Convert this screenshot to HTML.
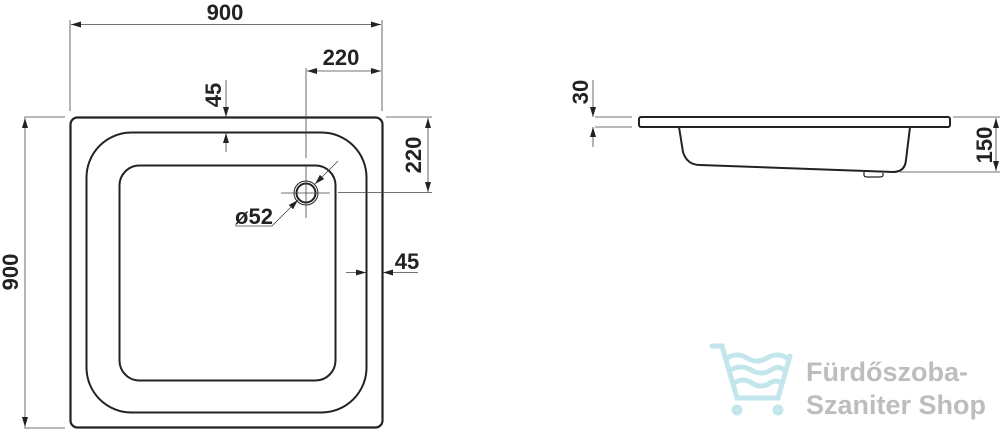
<!DOCTYPE html>
<html><head><meta charset="utf-8"><style>
html,body{margin:0;padding:0;background:#fff;width:1000px;height:429px;overflow:hidden}
text{font-family:"Liberation Sans",sans-serif;font-weight:bold;fill:#222}
</style></head><body>
<svg width="1000" height="429" viewBox="0 0 1000 429" xmlns="http://www.w3.org/2000/svg">
<defs>
<marker id="a" viewBox="0 0 10 6" refX="10" refY="3" markerWidth="10" markerHeight="6" orient="auto-start-reverse" markerUnits="userSpaceOnUse"><path d="M0,0 L10,3 L0,6 Z" fill="#222"/></marker>
</defs>
<g fill="none" stroke="#222">
<rect x="70.5" y="117.5" width="312" height="310" rx="7" stroke-width="2.2"/>
<rect x="86.5" y="132.5" width="280" height="280" rx="45" stroke-width="2"/>
<rect x="119.5" y="165.5" width="216" height="215" rx="20" stroke-width="2"/>
<circle cx="306" cy="193" r="12" stroke-width="1"/>
<circle cx="306" cy="193" r="9.5" stroke-width="2"/>
</g>
<g stroke="#444" stroke-width="0.8" fill="none">
<line x1="281" y1="193" x2="330" y2="193"/>
<line x1="306" y1="166" x2="306" y2="218"/>
<line x1="70" y1="20" x2="70" y2="111"/>
<line x1="382" y1="20" x2="382" y2="111"/>
<line x1="306" y1="68" x2="306" y2="158"/>
<line x1="24" y1="117" x2="65" y2="117"/>
<line x1="24" y1="428" x2="65" y2="428"/>
<line x1="386" y1="117" x2="432" y2="117"/>
<line x1="338" y1="192.5" x2="432" y2="192.5"/>
<line x1="71" y1="24.5" x2="381" y2="24.5" marker-start="url(#a)" marker-end="url(#a)"/>
<line x1="307" y1="71" x2="381" y2="71" marker-start="url(#a)" marker-end="url(#a)"/>
<line x1="226" y1="80" x2="226" y2="117" marker-end="url(#a)"/>
<line x1="226" y1="152" x2="226" y2="133" marker-end="url(#a)"/>
<line x1="428" y1="118" x2="428" y2="192" marker-start="url(#a)" marker-end="url(#a)"/>
<line x1="25" y1="118" x2="25" y2="427" marker-start="url(#a)" marker-end="url(#a)"/>
<line x1="346" y1="272.5" x2="366" y2="272.5" marker-end="url(#a)"/>
<line x1="418" y1="272.5" x2="383" y2="272.5" marker-end="url(#a)"/>
<line x1="235" y1="226" x2="272" y2="226"/>
<line x1="272" y1="226" x2="298" y2="200" marker-end="url(#a)"/>
<line x1="338" y1="161" x2="315" y2="184" marker-end="url(#a)"/>
<line x1="595" y1="117" x2="632" y2="117"/>
<line x1="595" y1="127" x2="632" y2="127"/>
<line x1="953" y1="117" x2="1000" y2="117"/>
<line x1="900" y1="172" x2="1000" y2="172"/>
<line x1="593" y1="80" x2="593" y2="117" marker-end="url(#a)"/>
<line x1="593" y1="147" x2="593" y2="127" marker-end="url(#a)"/>
<line x1="996" y1="118" x2="996" y2="171" marker-start="url(#a)" marker-end="url(#a)"/>
</g>
<g fill="none" stroke="#222" stroke-width="2">
<rect x="639" y="117" width="311" height="10" rx="2"/>
<path d="M679 127 L683 152 Q687 165 700 165 L893 172 Q905 172 906 160 L910 127"/>
<path d="M864 172 L864 175 Q864 177 867 177 L880 177 Q883 177 883 175 L883 173" stroke-width="1.2"/>
</g>
<text x="225" y="20" font-size="22" text-anchor="middle">900</text>
<text x="341" y="65" font-size="22" text-anchor="middle">220</text>
<text x="254" y="224" font-size="22" text-anchor="middle">ø52</text>
<text x="407" y="269" font-size="22" text-anchor="middle">45</text>
<text transform="translate(221,95) rotate(-90)" font-size="22" text-anchor="middle">45</text>
<text transform="translate(421,155) rotate(-90)" font-size="22" text-anchor="middle">220</text>
<text transform="translate(18,272) rotate(-90)" font-size="22" text-anchor="middle">900</text>
<text transform="translate(588,92) rotate(-90)" font-size="22" text-anchor="middle">30</text>
<text transform="translate(992,145) rotate(-90)" font-size="22" text-anchor="middle">150</text>
<g fill="none" stroke="#c3e5ec" stroke-width="5" stroke-linecap="round">
<path d="M712 346 L722 346 L737 398 L778 398 L790 356"/>
<path d="M727 358 Q737 352 747 358 Q757 364 767 358 Q777 352 787 358"/>
<path d="M731 370 Q741 364 751 370 Q761 376 771 370 Q779 365 784 370"/>
<path d="M734 383 Q743 377 752 383 Q761 389 770 383 Q776 379 781 383"/>
<circle cx="737" cy="410" r="3"/>
<circle cx="778" cy="410" r="3"/>
</g>
<text x="806" y="381" font-size="27" style="fill:#bdbdbd">Fürdőszoba-</text>
<text x="806" y="414" font-size="27" style="fill:#bdbdbd">Szaniter Shop</text>
</svg>
</body></html>
